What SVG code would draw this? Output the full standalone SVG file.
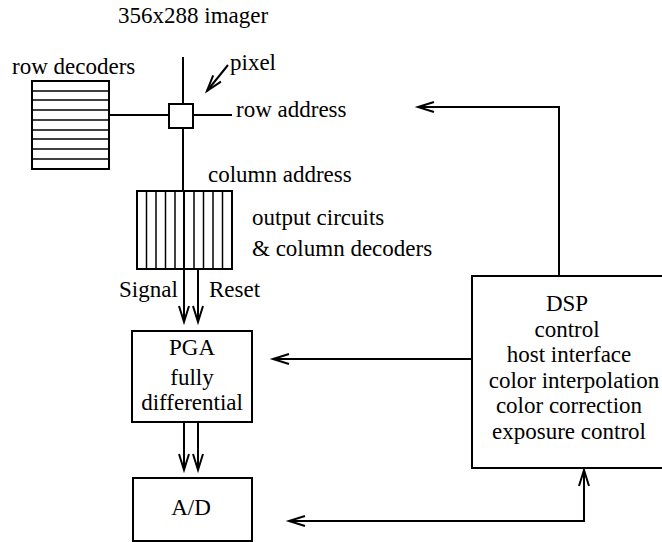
<svg xmlns="http://www.w3.org/2000/svg" width="662" height="542" viewBox="0 0 662 542" font-family="'Liberation Serif', 'DejaVu Serif', serif">
<style>
text{font-family:'Liberation Serif','DejaVu Serif',serif;font-size:23px;fill:#000}
.c{text-anchor:middle}
.box{fill:#fff;stroke:#000;stroke-width:2}
.ln{fill:none;stroke:#000;stroke-width:2}
.thin{fill:none;stroke:#000;stroke-width:1.5}
</style>
<defs>
<marker id="ah" markerUnits="userSpaceOnUse" markerWidth="20" markerHeight="14" viewBox="-18 -7 20 14" refX="0" refY="0" orient="auto" overflow="visible">
<path d="M-16,-5 L0,0 L-16,5" fill="none" stroke="#000" stroke-width="2"/>
</marker>
<marker id="ahs" markerUnits="userSpaceOnUse" markerWidth="20" markerHeight="14" viewBox="-18 -7 20 14" refX="0" refY="0" orient="auto-start-reverse" overflow="visible">
<path d="M-16,-5 L0,0 L-16,5" fill="none" stroke="#000" stroke-width="2"/>
</marker>
</defs>
<rect width="662" height="542" fill="#fff"/>
<text x="118" y="23">356x288 imager</text>

<g id="connectors">
<line class="ln" x1="183" y1="57" x2="183" y2="104"/>
<line class="ln" x1="109" y1="115" x2="169" y2="115"/>
<line class="ln" x1="193" y1="115" x2="232" y2="115"/>
<line class="ln" x1="183" y1="128" x2="183" y2="191"/>
<line class="ln" x1="228" y1="65" x2="207" y2="91" marker-end="url(#ah)"/>
<line class="ln" x1="184" y1="269" x2="184" y2="322" marker-end="url(#ah)"/>
<line class="ln" x1="198" y1="269" x2="198" y2="322" marker-end="url(#ah)"/>
<line class="ln" x1="184" y1="422" x2="184" y2="470" marker-end="url(#ah)"/>
<line class="ln" x1="198" y1="422" x2="198" y2="470" marker-end="url(#ah)"/>
<polyline class="ln" points="559,276 559,107 418,107" marker-end="url(#ah)"/>
<line class="ln" x1="472" y1="359" x2="273" y2="359" marker-end="url(#ah)"/>
<polyline class="ln" points="289,521 584,521 584,470" marker-start="url(#ahs)" marker-end="url(#ah)"/>
</g>

<g id="row-decoders">
<rect class="box" x="32" y="81" width="77" height="88"/>
<g class="thin">
<line x1="32" y1="91" x2="109" y2="91"/>
<line x1="32" y1="100" x2="109" y2="100"/>
<line x1="32" y1="110" x2="109" y2="110"/>
<line x1="32" y1="120" x2="109" y2="120"/>
<line x1="32" y1="130" x2="109" y2="130"/>
<line x1="32" y1="139" x2="109" y2="139"/>
<line x1="32" y1="149" x2="109" y2="149"/>
<line x1="32" y1="159" x2="109" y2="159"/>
</g>
<text x="12" y="74">row decoders</text>
</g>

<g id="pixel">
<rect class="box" x="169" y="104" width="24" height="24"/>
<text x="230" y="70">pixel</text>
</g>

<g id="row-address">
<text x="236" y="117">row address</text>
</g>

<g id="output-circuits">
<rect class="box" x="137" y="191" width="95" height="78"/>
<g class="thin">
<line x1="146.5" y1="191" x2="146.5" y2="269"/>
<line x1="156" y1="191" x2="156" y2="269"/>
<line x1="165.5" y1="191" x2="165.5" y2="269"/>
<line x1="175" y1="191" x2="175" y2="269"/>
<line x1="194" y1="191" x2="194" y2="269"/>
<line x1="203.5" y1="191" x2="203.5" y2="269"/>
<line x1="213" y1="191" x2="213" y2="269"/>
<line x1="222.5" y1="191" x2="222.5" y2="269"/>
</g>
<line class="ln" x1="184" y1="191" x2="184" y2="269"/>
<text x="208" y="182">column address</text>
<text x="252" y="225">output circuits</text>
<text x="252" y="256">&amp; column decoders</text>
</g>

<text x="119" y="297">Signal</text>
<text x="209" y="297">Reset</text>

<g id="pga">
<rect class="box" x="132" y="331" width="120" height="91"/>
<text class="c" x="192" y="355">PGA</text>
<text class="c" x="192" y="385">fully</text>
<text class="c" x="192" y="410">differential</text>
</g>

<g id="ad">
<rect class="box" x="133" y="478" width="119" height="63"/>
<text class="c" x="191" y="515">A/D</text>
</g>

<g id="dsp">
<rect class="box" x="472" y="276" width="192" height="192"/>
<text class="c" x="567" y="311">DSP</text>
<text class="c" x="567" y="337">control</text>
<text class="c" x="569" y="362">host interface</text>
<text class="c" x="574" y="388">color interpolation</text>
<text class="c" x="569" y="413">color correction</text>
<text class="c" x="569" y="439">exposure control</text>
</g>
</svg>
